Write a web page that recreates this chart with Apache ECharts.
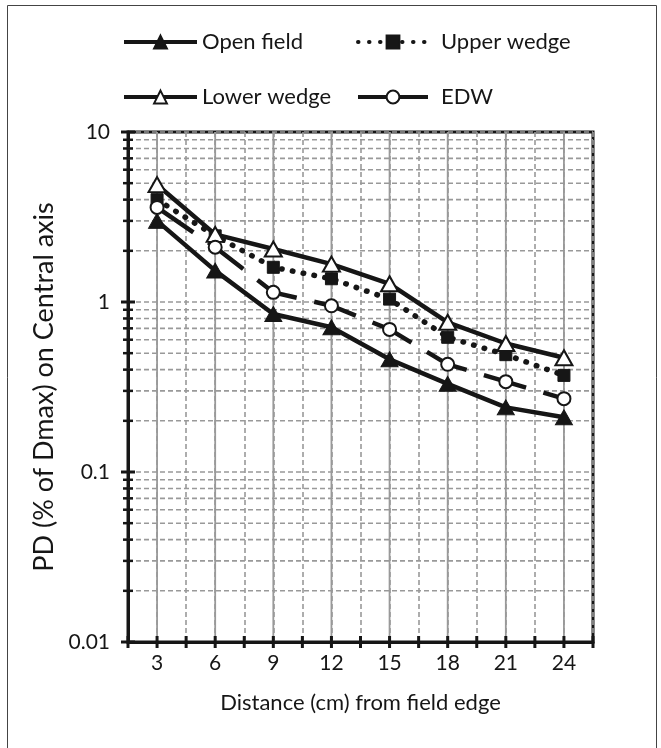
<!DOCTYPE html>
<html>
<head>
<meta charset="utf-8">
<script src="https://cdn.jsdelivr.net/npm/echarts@6/dist/echarts.min.js"></script>
<style>
html,body{margin:0;padding:0;background:#fff;}
#chart{width:661px;height:748px;}
</style>
</head>
<body>
<div id="chart"></div>
<script>
// ---- data ----
const distances = [3, 6, 9, 12, 15, 18, 21, 24];
const openField = [3.0, 1.53, 0.85, 0.71, 0.46, 0.33, 0.24, 0.21];
const upperWedge = [4.0, 2.45, 1.6, 1.37, 1.04, 0.62, 0.49, 0.37];
const lowerWedge = [4.9, 2.5, 2.05, 1.67, 1.28, 0.76, 0.57, 0.47];
const edw = [3.6, 2.1, 1.14, 0.95, 0.69, 0.43, 0.34, 0.27];

const seriesNames = ['Open field', 'Upper wedge', 'Lower wedge', 'EDW'];
const xTickValues = [1.5, 3, 4.5, 6, 7.5, 9, 10.5, 12, 13.5, 15, 16.5, 18, 19.5, 21, 22.5, 24, 25.5];
const yMajorValues = [0.01, 0.1, 1, 10];
const yMinorValues = [0.02, 0.03, 0.04, 0.05, 0.06, 0.07, 0.08, 0.09,
                      0.2, 0.3, 0.4, 0.5, 0.6, 0.7, 0.8, 0.9,
                      2, 3, 4, 5, 6, 7, 8, 9];
const xMin = 1.5, xMax = 25.5, yMin = 0.01, yMax = 10;

const FONT = 'Lato';
const INK = '#161616';
const GRIDC = '#999999';

function pairs(ys) { return distances.map((d, i) => [d, ys[i]]); }

// grid / tick helper items: [x, y, kind]
const helperData = [];
yMinorValues.forEach(v => helperData.push([xMin, v, 0]));
yMajorValues.forEach(v => helperData.push([xMin, v, 3]));
distances.forEach(v => helperData.push([v, 1, 1]));
xTickValues.forEach(v => helperData.push([v, 1, 2]));

function renderHelper(params, api) {
  const x = api.value(0), y = api.value(1), kind = api.value(2);
  if (kind === 0) {
    const a = api.coord([xMin, y]), b = api.coord([xMax, y]);
    return {type: 'group', children: [
      {type: 'line', shape: {x1: a[0], y1: a[1], x2: b[0], y2: b[1]},
       style: {stroke: GRIDC, lineWidth: 1.6, lineDash: [5, 3]}, z2: 1},
      {type: 'line', shape: {x1: a[0] - 5, y1: a[1], x2: a[0] + 5, y2: a[1]},
       style: {stroke: INK, lineWidth: 2.5}, z2: 10}
    ]};
  } else if (kind === 3) {
    const a = api.coord([xMin, y]);
    return {type: 'line', shape: {x1: a[0] - 7, y1: a[1], x2: a[0] + 7, y2: a[1]},
       style: {stroke: INK, lineWidth: 3}, z2: 10};
  } else if (kind === 1) {
    const a = api.coord([x, yMin]), b = api.coord([x, yMax]);
    return {type: 'line', shape: {x1: a[0], y1: a[1], x2: b[0], y2: b[1]},
       style: {stroke: GRIDC, lineWidth: 1.8}, z2: 2};
  } else {
    const a = api.coord([x, yMin]);
    return {type: 'line', shape: {x1: a[0], y1: a[1] - 6, x2: a[0], y2: a[1] + 6},
       style: {stroke: INK, lineWidth: 3}, z2: 10};
  }
}

const chart = echarts.init(document.getElementById('chart'), null, {renderer: 'canvas'});

const legendText = {fontFamily: FONT, fontSize: 22, color: INK};

chart.setOption({
  backgroundColor: '#fff',
  animation: false,
  graphic: [{
    type: 'rect', shape: {x: 7.5, y: 5.5, width: 649, height: 770},
    style: {fill: null, stroke: '#444', lineWidth: 1}, z: -1
  }],
  legend: [
    {data: ['Open field', 'Lower wedge'], orient: 'vertical', left: 122, top: 31, padding: 0,
     itemWidth: 73, itemHeight: 16, itemGap: 33, textStyle: legendText,
     lineStyle: {width: 4}},
    {data: ['Upper wedge', {name: 'EDW', lineStyle: {type: 'solid', width: 4}}],
     orient: 'vertical', left: 356, top: 31, padding: 0,
     itemWidth: 70, itemHeight: 16, itemGap: 33,
     textStyle: Object.assign({padding: [0, 0, 0, 8]}, legendText),
     lineStyle: {width: 4}}
  ],
  grid: {left: 128, right: 68, top: 132, bottom: 106, show: true,
         borderColor: INK, borderWidth: 3, backgroundColor: '#fff'},
  xAxis: {
    type: 'value', min: xMin, max: xMax, interval: 1.5,
    name: 'Distance (cm) from field edge', nameLocation: 'middle', nameGap: 50,
    nameTextStyle: {fontFamily: FONT, fontSize: 22, color: INK},
    axisLine: {show: true, lineStyle: {color: INK, width: 3}},
    axisTick: {show: false},
    axisLabel: {fontFamily: FONT, fontSize: 21, color: INK, margin: 11,
      formatter: v => (v % 3 === 0 ? String(v) : '')},
    splitLine: {show: true, lineStyle: {color: GRIDC, width: 1.6, type: [5, 3]}}
  },
  yAxis: {
    type: 'log', logBase: 10, min: yMin, max: yMax,
    name: 'PD (% of Dmax) on Central axis', nameLocation: 'middle', nameGap: 64,
    nameTextStyle: {fontFamily: FONT, fontSize: 27, color: INK},
    axisLine: {show: true, lineStyle: {color: INK, width: 3}},
    axisTick: {show: false},
    axisLabel: {fontFamily: FONT, fontSize: 21, color: INK, margin: 18,
      formatter: v => String(+v.toPrecision(3))},
    splitLine: {show: true, lineStyle: {color: GRIDC, width: 1.6, type: [5, 3]}}
  },
  series: [
    {type: 'custom', name: 'grid', data: helperData, renderItem: renderHelper,
     silent: true, z: 1, clip: false, legendHoverLink: false},
    {type: 'line', name: 'Open field', data: pairs(openField), z: 5,
     symbol: 'triangle', symbolSize: [17, 15],
     lineStyle: {color: INK, width: 4.5},
     itemStyle: {color: INK, borderColor: INK, borderWidth: 1}},
    {type: 'line', name: 'Upper wedge', data: pairs(upperWedge), z: 5,
     symbol: 'rect', symbolSize: 12,
     lineStyle: {color: INK, width: 5.5, type: [0.5, 10.5], cap: 'round'},
     itemStyle: {color: INK, borderColor: INK, borderWidth: 1}},
    {type: 'line', name: 'Lower wedge', data: pairs(lowerWedge), z: 5,
     symbol: 'triangle', symbolSize: [17, 15],
     lineStyle: {color: INK, width: 4.5},
     itemStyle: {color: '#fff', borderColor: INK, borderWidth: 2}},
    {type: 'line', name: 'EDW', data: pairs(edw), z: 5,
     symbol: 'circle', symbolSize: 13,
     lineStyle: {color: INK, width: 4.5, type: [44, 18]},
     itemStyle: {color: '#fff', borderColor: INK, borderWidth: 2}}
  ]
});
</script>
</body>
</html>
